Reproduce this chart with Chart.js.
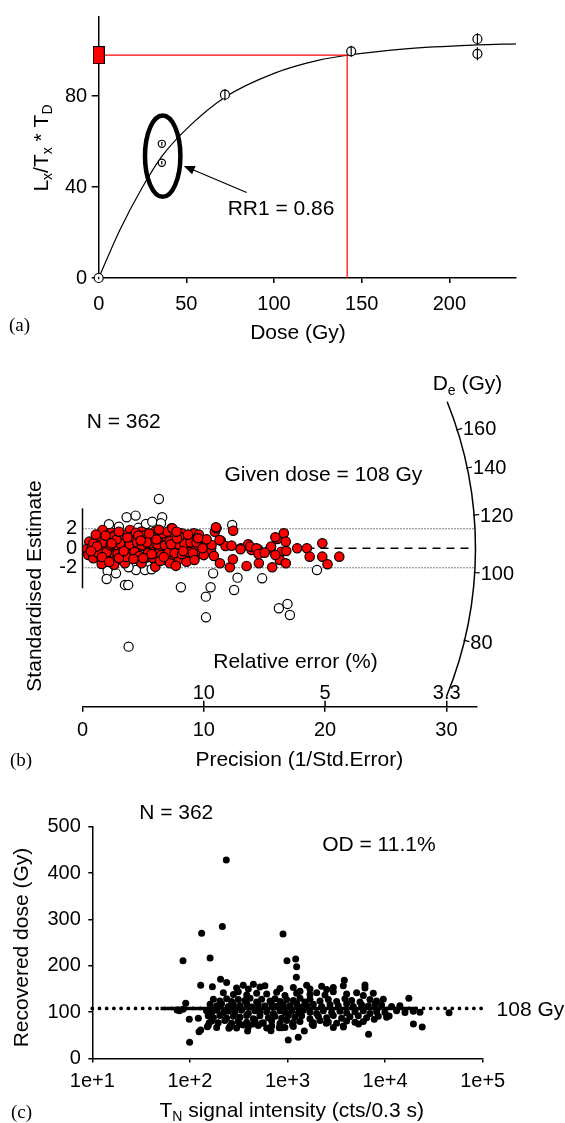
<!DOCTYPE html>
<html>
<head>
<meta charset="utf-8">
<script src="https://cdn.jsdelivr.net/npm/chart.js@4.4.0/dist/chart.umd.min.js"></script>
<style>
    body { margin: 0; background: #fff; }
    #page { position: relative; width: 565px; height: 1123px; overflow: hidden; background: #fff; }
    #page canvas { position: absolute; left: 0; }
    .panel-tag { position: absolute; font-family: "Liberation Serif", "Times New Roman", serif; font-size: 19px; line-height: 22px; color: #000; }
</style>
</head>
<body>
<div id="page">
    <canvas id="chart-a" width="565" height="345" style="top:0px"></canvas>
    <canvas id="chart-b" width="565" height="430" style="top:345px"></canvas>
    <canvas id="chart-c" width="565" height="348" style="top:775px"></canvas>
    <div class="panel-tag" style="left:9px; top:314px">(a)</div>
    <div class="panel-tag" style="left:10px; top:749px">(b)</div>
    <div class="panel-tag" style="left:11px; top:1101px">(c)</div>
</div>
<script>
// ---- panel (a): dose response curve ----
const regenDoses = [0, 36, 36, 72, 144, 216, 216];
const regenSignal = [0, 59, 50.7, 80.6, 99.7, 105.1, 98.6];
const regenError = [0.6, 0.8, 0.8, 2.5, 2.4, 2.6, 2.9];
const fitDose = [0, 12, 25, 36, 50, 72, 100, 125, 144, 175, 216, 238];
const fitSignal = [0, 21, 40, 53.5, 65.5, 79.5, 90, 95.7, 98.2, 100.8, 102.5, 103];
const naturalSignal = 98;
const equivalentDose = 141.7;
const doseTicksA = [0, 50, 100, 150, 200];
const signalTicksA = [0, 40, 80];

// ---- panel (b): radial plot ----
const redPoints = [
    [1.66, 1.88], [2.40, 1.60], [2.68, 1.36], [3.91, 1.88], [4.87, 1.71], [5.97, 1.71], [6.11, 1.53],
    [7.34, 2.05], [7.48, 1.81], [7.62, 1.36], [8.17, 1.53], [9.07, 1.19], [9.18, 1.53], [9.68, 0.92],
    [0.56, 0.68], [1.17, 1.02], [1.44, 0.92], [2.21, 0.85], [2.59, 1.19], [3.36, 0.85], [4.32, 0.85],
    [5.29, 0.92], [6.38, 0.85], [6.88, 1.19], [7.76, 0.68], [8.31, 1.02], [8.72, 1.02], [9.40, 0.92],
    [0.34, -0.07], [0.76, 0.17], [1.03, -0.17], [1.39, 0.27], [1.99, 0], [2.48, -0.24], [2.95, 0.17],
    [3.50, 0], [4.05, -0.17], [4.60, 0], [5.23, 0.17], [5.56, -0.17], [6.38, -0.17], [6.93, 0],
    [7.48, 0.17], [8.09, -0.11], [8.53, 0.17], [8.99, -0.17],
    [0.48, -0.69], [0.89, -1.03], [1.58, -1.2], [2.13, -0.79], [2.68, -0.69], [3.23, -1.2], [3.78, -0.58],
    [4.74, -1.3], [5.34, -0.93], [6.11, -1.13], [6.80, -1.2], [7.34, -0.79], [7.95, -1.13], [8.58, -0.93],
    [9.18, -0.93], [1.58, -1.61], [2.54, -1.37], [3.50, -1.54], [4.87, -1.54], [6.03, -1.47], [7.21, -1.54],
    [8.58, -1.37],
    [0.9, 0.5], [1.3, -0.5], [1.8, 0.6], [2.0, -0.4], [2.3, 0.3], [2.9, -0.6], [3.1, 0.5], [3.3, 1.4],
    [3.6, -0.9], [3.9, 0.4], [4.1, 1.2], [4.3, -0.4], [4.5, 0.6], [4.7, -0.8], [4.9, 0.3], [5.1, 1.3],
    [5.4, -0.5], [5.6, 0.5], [5.8, -1.0], [5.9, 1.1], [6.2, 0.4], [6.5, -0.7], [6.6, 1.5], [6.8, 0.3],
    [7.1, -0.4], [7.2, 0.7], [7.6, -0.5], [7.9, 0.4], [8.2, -0.6], [8.4, 0.5], [8.8, -0.4], [9.3, 0.3],
    [9.5, -0.6], [9.8, -0.3], [10.4, 0.2], [10.6, -0.3], [1.1, 1.4], [1.6, -0.9], [2.6, -1.7], [3.0, -1.0],
    [4.4, 1.6], [5.5, 1.5], [6.0, -1.9], [6.4, -1.3], [7.0, 1.7], [7.7, -1.8], [8.0, 1.2], [8.9, 0.6],
    [9.6, 1.4], [10.0, -0.7],
    [1.9, 1.3], [2.2, -1.4], [2.8, 0.9], [3.4, -0.3], [3.7, 1.1], [4.2, -1.1], [4.6, 1.3], [5.0, -1.0],
    [5.3, 0.6], [5.7, -0.6], [6.1, 0.9], [6.7, -0.9], [7.3, 0.4], [7.8, 1.0], [8.3, -0.3], [8.7, 1.4],
    [9.1, -0.5], [9.4, 0.6], [1.2, 0.2], [0.7, -0.3], [2.4, 0.5], [3.0, 1.7], [4.8, 0.8], [6.3, 1.9],
    [10.91, 1.7], [11.05, 2.05], [12.42, 1.8], [11.41, 0.78], [11.79, 0.24], [12.29, 0.27], [13.06, 0],
    [13.66, 0.41], [13.94, -0.17], [14.48, -0.1], [15.5, 0], [16.05, 0.95], [16.6, 1.54], [16.76, 0.68],
    [16.4, -0.35], [16.8, -0.28], [11.33, -1.54], [12.15, -1.95], [12.4, -1.13], [13.53, -1.81],
    [14.54, -1.54], [15.64, -1.95], [16.27, -1.2], [16.76, -1.54], [10.83, -0.79], [10.64, 0.34],
    [10.23, 0.92], [9.9, 0], [17.7, 0], [18.5, 0], [18.73, -0.86], [19.77, 0.51], [19.77, -0.86],
    [20.2, -1.64], [21.17, -0.86], [15.9, -0.69], [15.55, 0.17], [15.9, 1.13], [11.0, 2.15], [11.3, 0.85],
    [13.03, -0.1], [13.83, 0.17], [14.34, 0], [14.51, -0.58], [15.02, -0.45], [9.53, 1.03], [9.23, -1.2],
    [7.4, 2.05], [7.75, 1.7]
];
const openPoints = [
    [6.3, 5.06], [3.64, 3.18], [4.38, 3.35], [6.57, 3.18], [2.18, 2.46], [3.0, 2.22], [4.6, 2.1],
    [5.23, 2.49], [5.75, 2.73], [6.47, 2.56], [12.34, 2.39], [2.07, -2.33], [1.99, -3.15], [2.76, -2.57],
    [3.5, -3.76], [3.77, -3.76], [4.41, -2.23], [5.15, -2.23], [5.7, -2.15], [3.8, -1.95], [8.11, -4.0],
    [10.17, -4.96], [10.56, -4.0], [10.77, -2.57], [12.5, -4.28], [12.78, -3.01], [14.81, -3.08],
    [16.19, -6.15], [16.9, -5.71], [3.8, -10.09], [10.18, -7.08], [17.1, -6.84], [19.33, -2.23]
];
const precisionTicks = [0, 10, 20, 30];
const stdTicks = [-2, 0, 2];
const stdAxisRange = [-4.1, 4.1];
const relErrValues = [10, 5, 3.33];
const relErrLabels = ['10', '5', '3.3'];
const deTicks = [80, 100, 120, 140, 160];
const deArcRange = [65, 178];
const arcRadius = 32.4;
const givenDose = 108;

// ---- panel (c): recovered dose vs signal ----
const dosePoints = [
    [301, 152], [352, 158], [397, 150], [447, 160], [522, 154], [587, 157], [838, 151], [1147, 153],
    [1571, 158], [1699, 150], [2239, 156], [2519, 149], [2947, 153], [3731, 157], [6217, 152],
    [220, 142], [279, 138], [313, 144], [382, 137], [483, 141], [612, 139], [774, 143], [942, 136],
    [1241, 141], [1343, 145], [1699, 138], [1990, 142], [2422, 137], [2947, 144], [4036, 139],
    [5108, 142], [5977, 136], [7566, 141],
    [174, 128], [203, 124], [238, 129], [268, 123], [313, 127], [366, 125], [413, 130], [483, 122],
    [543, 128], [662, 124], [745, 129], [838, 123], [980, 127], [1147, 125], [1343, 130], [1510, 122],
    [1699, 128], [2153, 124], [2620, 127], [3188, 123], [3880, 129], [4541, 125], [5526, 122],
    [6994, 127], [8184, 124], [9576, 128],
    [161, 117], [188, 113], [211, 118], [248, 112], [279, 116], [326, 114], [382, 118], [430, 111],
    [502, 116], [587, 113], [689, 117], [774, 112], [906, 116], [1060, 114], [1241, 118], [1396, 111],
    [1571, 115], [1840, 117], [2239, 112], [2725, 116], [3316, 114], [4036, 118], [4722, 112],
    [5747, 116], [6725, 113], [7869, 117], [9207, 115], [11653, 112], [14180, 114],
    [148, 103], [167, 99], [188, 104], [220, 98], [248, 102], [290, 100], [339, 104], [397, 97],
    [464, 103], [522, 99], [612, 101], [716, 97], [838, 103], [942, 99], [1102, 102], [1291, 98],
    [1452, 104], [1699, 100], [1990, 97], [2329, 103], [2834, 99], [3449, 102], [4036, 98], [4912, 101],
    [5977, 103], [6994, 97], [8184, 101], [9959, 99], [13110, 103], [15983, 99], [19454, 102], [22760, 100],
    [154, 92], [174, 88], [203, 93], [238, 87], [279, 91], [326, 89], [382, 93], [447, 86], [522, 92],
    [636, 88], [745, 91], [871, 87], [1019, 93], [1193, 89], [1396, 92], [1699, 86], [2070, 91],
    [2519, 88], [2947, 93], [3587, 87], [4366, 90], [5313, 92], [6466, 88], [8512, 91], [10358, 89],
    [167, 81], [195, 77], [228, 82], [268, 76], [313, 80], [382, 78], [464, 83], [565, 77], [689, 81],
    [838, 76], [980, 82], [1147, 78], [1343, 80], [1840, 77], [2153, 82], [2620, 79], [3188, 76],
    [4036, 81], [4912, 78], [5977, 80],
    [154, 71], [188, 67], [258, 70], [301, 66], [352, 72], [397, 68], [502, 71], [612, 66], [689, 70],
    [838, 72], [942, 67], [1147, 69], [1840, 71], [2947, 67], [3731, 70],
    [236, 428], [215, 284.5], [132, 270], [900, 268.7], [85, 211], [161, 217], [988, 211], [1213, 214.6],
    [1241, 198], [1232, 175], [129, 158], [170, 155], [206, 171], [238, 164], [3820, 169], [6220, 158.6],
    [99.3, 34.9], [1018, 39.9], [1290, 45.7], [6770, 52.2], [129, 61.5], [124, 57.9], [1487, 59.4],
    [390, 59.4], [677, 60], [24000, 68], [19500, 74.5], [45200, 98.9], [98.6, 84.5], [122, 86.7],
    [151, 68.7], [158, 77.3], [259, 68.7], [251, 65], [324, 73.7], [443, 74.5], [543, 75.9], [824, 66.5],
    [871, 66.5], [1125, 73], [1790, 73.7], [2500, 75.9], [3740, 68], [5350, 74.5], [7740, 84.5],
    [11000, 91.7], [17500, 130], [90.6, 119], [78, 103], [74, 104.7], [85, 106]
];
const signalTicksC = [1e1, 1e2, 1e3, 1e4, 1e5];
const signalTickLabelsC = ['1e+1', '1e+2', '1e+3', '1e+4', '1e+5'];
const doseTicksC = [0, 100, 200, 300, 400, 500];
const givenDoseSpan = [10, 1e5];
const givenDoseSolid = [50, 21000];

const FONT = '"Liberation Sans", Arial, Helvetica, sans-serif';
Chart.defaults.font.family = FONT;
Chart.defaults.color = '#000';
Chart.defaults.animation = false;

// draws text with optional subscript parts, centred on the cap height of y
function drawRich(ctx, parts, x, y, size, align, rotated) {
    const subSize = Math.round(size * 0.68);
    ctx.save();
    ctx.translate(x, y);
    if (rotated) ctx.rotate(-Math.PI / 2);
    ctx.fillStyle = '#000';
    ctx.textBaseline = 'alphabetic';
    ctx.textAlign = 'left';
    let total = 0;
    const widths = parts.map(([text, sub]) => {
        ctx.font = `${sub ? subSize : size}px ${FONT}`;
        const w = ctx.measureText(text).width;
        total += w;
        return w;
    });
    let cx = align === 'left' ? 0 : -total / 2;
    const base = size * 0.36;
    parts.forEach(([text, sub], i) => {
        ctx.font = `${sub ? subSize : size}px ${FONT}`;
        ctx.fillText(text, cx, sub ? base + size * 0.22 : base);
        cx += widths[i];
    });
    ctx.restore();
}

function fixedTicks(values) {
    return scale => { scale.ticks = values.map(v => ({ value: v })); };
}

function axisOptions(extra) {
    return Object.assign({
        grid: { drawOnChartArea: false, color: '#000', tickColor: '#000', lineWidth: 1.5 },
        border: { color: '#000', width: 1.5 },
        ticks: { font: { size: 20 }, color: '#000', maxRotation: 0, autoSkip: false }
    }, extra);
}

const baseOptions = {
    responsive: false,
    plugins: { legend: { display: false }, tooltip: { enabled: false } },
    events: []
};

// ---------------- panel (a) ----------------
const naturalMarker = document.createElement('canvas');
naturalMarker.width = 12;
naturalMarker.height = 18;
(() => {
    const m = naturalMarker.getContext('2d');
    m.fillStyle = '#ff0000';
    m.fillRect(0.5, 0.5, 11, 17);
    m.strokeStyle = '#000';
    m.lineWidth = 1;
    m.strokeRect(0.5, 0.5, 11, 17);
})();

const panelADecor = {
    id: 'panelADecor',
    afterDatasetsDraw(chart) {
        const { ctx, scales: { x, y } } = chart;
        ctx.save();
        ctx.strokeStyle = '#000';
        ctx.lineWidth = 1.2;
        regenDoses.forEach((d, i) => {
            const px = x.getPixelForValue(d);
            ctx.beginPath();
            ctx.moveTo(px, y.getPixelForValue(regenSignal[i] + regenError[i]));
            ctx.lineTo(px, y.getPixelForValue(regenSignal[i] - regenError[i]));
            ctx.stroke();
        });

        // ellipse round the two aliquots at 36 Gy
        const ex = x.getPixelForValue(36.5), ey = y.getPixelForValue(53.6);
        ctx.lineWidth = 4.5;
        ctx.beginPath();
        ctx.ellipse(ex, ey, x.getPixelForValue(46.6) - ex, ey - y.getPixelForValue(71.5), 0, 0, Math.PI * 2);
        ctx.stroke();

        // arrow pointing at the ellipse
        const tx = x.getPixelForValue(84.4), ty = y.getPixelForValue(37.6);
        const hx = x.getPixelForValue(48.5), hy = y.getPixelForValue(49.3);
        const ang = Math.atan2(hy - ty, hx - tx);
        ctx.lineWidth = 1.3;
        ctx.beginPath();
        ctx.moveTo(tx, ty);
        ctx.lineTo(hx - 8 * Math.cos(ang), hy - 8 * Math.sin(ang));
        ctx.stroke();
        ctx.fillStyle = '#000';
        ctx.beginPath();
        ctx.moveTo(hx, hy);
        ctx.lineTo(hx - 11 * Math.cos(ang) + 4.5 * Math.sin(ang), hy - 11 * Math.sin(ang) - 4.5 * Math.cos(ang));
        ctx.lineTo(hx - 11 * Math.cos(ang) - 4.5 * Math.sin(ang), hy - 11 * Math.sin(ang) + 4.5 * Math.cos(ang));
        ctx.closePath();
        ctx.fill();
        ctx.restore();

        drawRich(ctx, [['RR1 = 0.86']], x.getPixelForValue(104), y.getPixelForValue(30.9), 21);
    },
    afterDraw(chart) {
        const { ctx } = chart;
        drawRich(ctx, [['L'], ['x', true], ['/T'], ['x', true], [' * T'], ['D', true]], 40, 148, 21, 'center', true);
        drawRich(ctx, [['Dose (Gy)']], 298, 331, 21);
    }
};

new Chart(document.getElementById('chart-a'), {
    type: 'scatter',
    data: {
        datasets: [
            {
                data: [{ x: 0, y: naturalSignal }],
                pointStyle: naturalMarker, pointRadius: 8, clip: false
            },
            {
                data: regenDoses.map((d, i) => ({ x: d, y: regenSignal[i] })),
                pointRadius: [4.5, 3.6, 3.6, 4.5, 4.5, 4.5, 4.5],
                backgroundColor: '#fff', borderColor: '#000', borderWidth: 1.2, clip: false
            },
            {
                data: [
                    { x: 0, y: naturalSignal },
                    { x: equivalentDose, y: naturalSignal },
                    { x: equivalentDose, y: 0 }
                ],
                showLine: true, borderColor: '#ff0000', borderWidth: 1.2, pointRadius: 0, clip: false
            },
            {
                data: fitDose.map((d, i) => ({ x: d, y: fitSignal[i] })),
                showLine: true, borderColor: '#000', borderWidth: 1.2, pointRadius: 0,
                cubicInterpolationMode: 'monotone', clip: false
            }
        ]
    },
    options: Object.assign({}, baseOptions, {
        layout: { padding: { top: 14.1, right: 49, left: 0, bottom: 0 } },
        scales: {
            x: axisOptions({
                type: 'linear', min: 0, max: 238,
                afterBuildTicks: fixedTicks(doseTicksA),
                afterFit: s => { s.height = 67; },
                grid: { drawOnChartArea: false, color: '#000', tickColor: '#000', lineWidth: 1.5, tickLength: 5 },
                ticks: { font: { size: 20 }, color: '#000', padding: 9, maxRotation: 0, autoSkip: false }
            }),
            y: axisOptions({
                type: 'linear', min: 0, max: 115,
                afterBuildTicks: fixedTicks(signalTicksA),
                afterFit: s => { s.width = 98.7; },
                grid: { drawOnChartArea: false, color: '#000', tickColor: '#000', lineWidth: 1.5, tickLength: 7 },
                ticks: { font: { size: 20 }, color: '#000', padding: 4.5, autoSkip: false }
            })
        }
    }),
    plugins: [panelADecor]
});

// ---------------- panel (b) ----------------
const panelBDecor = {
    id: 'panelBDecor',
    afterDraw(chart) {
        const { ctx, chartArea, scales: { x, y } } = chart;
        ctx.save();
        ctx.strokeStyle = '#000';

        // short standardised estimate axis
        ctx.lineWidth = 1.5;
        ctx.beginPath();
        ctx.moveTo(x.getPixelForValue(0), y.getPixelForValue(stdAxisRange[1]));
        ctx.lineTo(x.getPixelForValue(0), y.getPixelForValue(stdAxisRange[0]));
        ctx.stroke();

        // relative error ticks above the precision axis
        const axisY = chartArea.bottom;
        ctx.lineWidth = 1.5;
        relErrValues.forEach((v, i) => {
            const px = x.getPixelForValue(100 / v);
            ctx.beginPath();
            ctx.moveTo(px, axisY);
            ctx.lineTo(px, axisY - 6);
            ctx.stroke();
            drawRich(ctx, [[relErrLabels[i]]], px, axisY - 15, 20);
        });

        // D_e arc
        const cx = x.getPixelForValue(0), cy = y.getPixelForValue(0);
        const r = x.getPixelForValue(arcRadius) - cx;
        const ux = x.getPixelForValue(1) - cx;
        const angleFor = de => Math.atan2(y.getPixelForValue(Math.log(de / givenDose)) - cy, ux);
        ctx.lineWidth = 1.5;
        ctx.beginPath();
        ctx.arc(cx, cy, r, angleFor(deArcRange[1]), angleFor(deArcRange[0]));
        ctx.stroke();
        ctx.lineWidth = 1.2;
        deTicks.forEach(de => {
            const a = angleFor(de);
            ctx.beginPath();
            ctx.moveTo(cx + (r - 1) * Math.cos(a), cy + (r - 1) * Math.sin(a));
            ctx.lineTo(cx + (r + 5) * Math.cos(a), cy + (r + 5) * Math.sin(a));
            ctx.stroke();
            drawRich(ctx, [[String(de)]], cx + (r + 6) * Math.cos(a), cy + (r + 6) * Math.sin(a), 20, 'left');
        });
        ctx.restore();

        drawRich(ctx, [['D'], ['e', true], [' (Gy)']], 432.7, 37.7, 21, 'left');
        drawRich(ctx, [['N = 362']], 123.7, 75, 21);
        drawRich(ctx, [['Given dose = 108 Gy']], 323.4, 128.3, 21);
        drawRich(ctx, [['Relative error (%)']], 295.5, 315, 21);
        drawRich(ctx, [['Standardised Estimate']], 33.5, 241, 21, 'center', true);
        drawRich(ctx, [['Precision (1/Std.Error)']], 299.3, 413, 21);
    }
};

new Chart(document.getElementById('chart-b'), {
    type: 'scatter',
    data: {
        datasets: [
            {
                data: redPoints.map(([p, s]) => ({ x: p, y: s })),
                pointRadius: 4.7, backgroundColor: '#ff0000', borderColor: '#000', borderWidth: 1.2
            },
            {
                data: openPoints.map(([p, s]) => ({ x: p, y: s })),
                pointRadius: 4.6, backgroundColor: '#fff', borderColor: '#000', borderWidth: 1.2
            },
            {
                data: [{ x: 0, y: 0 }, { x: 31.9, y: 0 }],
                showLine: true, borderColor: '#000', borderWidth: 1.5, borderDash: [8, 6], pointRadius: 0
            },
            {
                data: [{ x: 0, y: stdTicks[2] }, { x: 32.4, y: stdTicks[2] }],
                showLine: true, borderColor: '#000', borderWidth: 1, borderDash: [1, 2], pointRadius: 0
            },
            {
                data: [{ x: 0, y: stdTicks[0] }, { x: 32.4, y: stdTicks[0] }],
                showLine: true, borderColor: '#000', borderWidth: 1, borderDash: [1, 2], pointRadius: 0
            }
        ]
    },
    options: Object.assign({}, baseOptions, {
        layout: { padding: { top: 47.3, right: 88.3, left: 0, bottom: 0 } },
        scales: {
            x: axisOptions({
                type: 'linear', min: 0, max: 32.5,
                afterBuildTicks: fixedTicks(precisionTicks),
                afterFit: s => { s.height = 68.3; },
                grid: { drawOnChartArea: false, color: '#000', tickColor: '#000', lineWidth: 1.5, tickLength: 5 },
                ticks: { font: { size: 20 }, color: '#000', padding: 7, maxRotation: 0, autoSkip: false }
            }),
            y: {
                type: 'linear', min: -16.25, max: 16,
                afterBuildTicks: fixedTicks(stdTicks),
                afterFit: s => { s.width = 82.5; },
                grid: { display: false, drawTicks: false },
                border: { display: false },
                ticks: { font: { size: 20 }, color: '#000', padding: 5.5, autoSkip: false }
            }
        }
    }),
    plugins: [panelBDecor]
});

// ---------------- panel (c) ----------------
const panelCDecor = {
    id: 'panelCDecor',
    afterDraw(chart) {
        const { ctx, scales: { y } } = chart;
        drawRich(ctx, [['N = 362']], 176.2, 36.7, 21);
        drawRich(ctx, [['OD = 11.1%']], 378.9, 68.3, 21);
        drawRich(ctx, [['108 Gy']], 496.6, y.getPixelForValue(givenDose), 21, 'left');
        drawRich(ctx, [['Recovered dose (Gy)']], 20.5, 172.5, 21, 'center', true);
        drawRich(ctx, [['T'], ['N', true], [' signal intensity (cts/0.3 s)']], 291.7, 334, 21);
    }
};

new Chart(document.getElementById('chart-c'), {
    type: 'scatter',
    data: {
        datasets: [
            {
                data: dosePoints.map(([s, d]) => ({ x: s, y: d })),
                pointRadius: 3.5, backgroundColor: '#000', borderWidth: 0
            },
            {
                data: givenDoseSolid.map(s => ({ x: s, y: givenDose })),
                showLine: true, borderColor: '#000', borderWidth: 3.5, pointRadius: 0
            },
            {
                data: givenDoseSpan.map(s => ({ x: s, y: givenDose })),
                showLine: true, borderColor: '#000', borderWidth: 3.8, borderDash: [0, 7.2],
                borderCapStyle: 'round', pointRadius: 0, clip: false
            }
        ]
    },
    options: Object.assign({}, baseOptions, {
        layout: { padding: { top: 51.7, right: 82.3, left: 0, bottom: 0 } },
        scales: {
            x: axisOptions({
                type: 'logarithmic', min: 10, max: 1e5,
                afterBuildTicks: fixedTicks(signalTicksC),
                afterFit: s => { s.height = 64.5; },
                grid: { drawOnChartArea: false, color: '#000', tickColor: '#000', lineWidth: 1.5, tickLength: 4 },
                ticks: {
                    font: { size: 20 }, color: '#000', padding: 7, maxRotation: 0, autoSkip: false,
                    callback: (v, i) => signalTickLabelsC[i]
                }
            }),
            y: axisOptions({
                type: 'linear', min: 0, max: 500,
                afterBuildTicks: fixedTicks(doseTicksC),
                afterFit: s => { s.width = 92.3; },
                grid: { drawOnChartArea: false, color: '#000', tickColor: '#000', lineWidth: 1.5, tickLength: 4 },
                ticks: { font: { size: 20 }, color: '#000', padding: 7.5, autoSkip: false }
            })
        }
    }),
    plugins: [panelCDecor]
});
</script>
</body>
</html>
